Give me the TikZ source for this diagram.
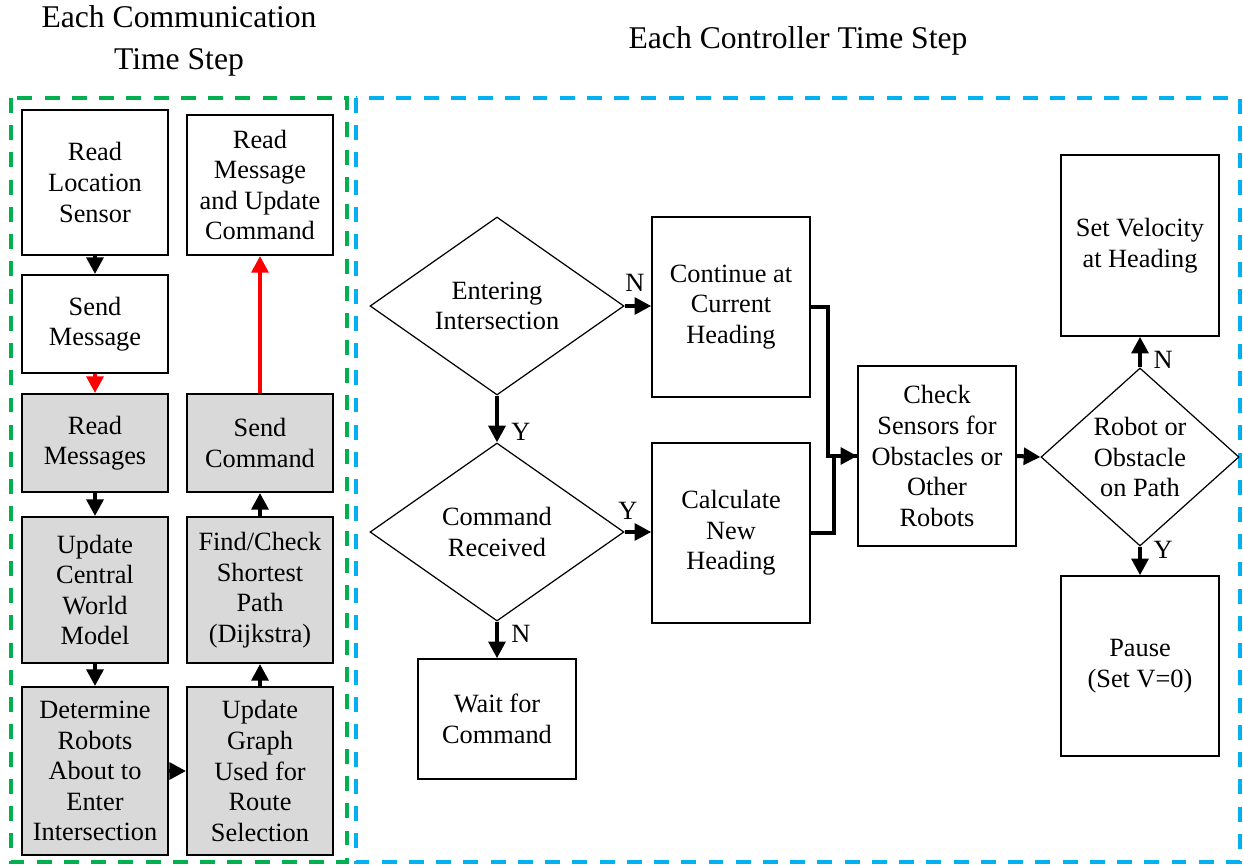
\documentclass[tikz,border=0pt]{standalone}
\usepackage{fontspec}
\setmainfont{Liberation Serif}
\usetikzlibrary{arrows.meta,shapes.geometric}
\newlength\pu
\setlength\pu{0.02cm}
\definecolor{framegreen}{HTML}{00B050}
\definecolor{frameblue}{HTML}{00B0F0}
\definecolor{shade}{HTML}{D9D9D9}

\begin{document}
\begin{tikzpicture}[x=0.02cm,y=-0.02cm,
  txt/.style={font=\fontsize{15}{17.4}\selectfont, align=center},
  lbox/.style={txt, draw, line width=1.1pt, inner sep=0pt,
    minimum width={146*\pu}},
  gbox/.style={lbox, fill=shade},
  rbox/.style={txt, draw, line width=0.85pt, inner sep=0pt,
    minimum width={158*\pu}, minimum height={180*\pu}},
  decision/.style={txt, draw, diamond, line width=0.7pt, inner sep=0pt,
    minimum width={254*\pu}, minimum height={178*\pu}},
  arr/.style={line width=2.3pt, -{Triangle[length=9.5pt,width=9.5pt]}},
  redarr/.style={arr, red},
  link/.style={line width=2.3pt},
  yn/.style={font=\fontsize{15}{17.4}\selectfont, inner sep=0pt},
  heading/.style={font=\fontsize{18}{24}\selectfont, align=center},
  frame/.style={dash pattern=on 8.5pt off 7pt}]

\useasboundingbox (0,0) rectangle (1243,865);

% phase frames and headings
\draw[frame, framegreen, line width=2.2pt] (11,98) rectangle (347,862);
\draw[frame, frameblue, line width=1.8pt] (356,98) rectangle (1240,862);
\node[heading] (hcomm) at (179,41) {Each Communication\\Time Step};
\node[heading] (hctrl) at (798,41) {Each Controller Time Step};

% communication time step
\node[lbox, minimum height={145*\pu}] (rls) at (95,182.5) {Read\\Location\\Sensor};
\node[lbox, minimum height={98*\pu}]  (sm)  at (95,324)   {Send\\Message};
\node[lbox, minimum height={140*\pu}] (rmu) at (260,185)  {Read\\Message\\and Update\\Command};
\node[gbox, minimum height={98*\pu}]  (rms) at (95,443)   {Read\\Messages};
\node[gbox, minimum height={98*\pu}]  (sc)  at (260,443)  {Send\\Command};
\node[gbox, minimum height={146*\pu}] (ucw) at (95,590)   {Update\\Central\\World\\Model};
\node[gbox, minimum height={146*\pu}] (fcs) at (260,590)  {Find/Check\\Shortest\\Path\\(Dijkstra)};
\node[gbox, minimum height={168*\pu}] (drb) at (95,771)   {Determine\\Robots\\About to\\Enter\\Intersection};
\node[gbox, minimum height={168*\pu}] (ugr) at (260,771)  {Update\\Graph\\Used for\\Route\\Selection};

\draw[arr] (rls) -- (sm);
\draw[redarr] (sm) -- (rms);
\draw[arr] (rms) -- (ucw);
\draw[arr] (ucw) -- (drb);
\draw[arr] (drb) -- (ugr);
\draw[arr] (ugr) -- (fcs);
\draw[arr] (fcs) -- (sc);
\draw[redarr] (sc) -- (rmu);

% controller time step
\node[decision] (ent)  at (497,306) {Entering\\Intersection};
\node[decision] (cmd)  at (497,532) {Command\\Received};
\node[rbox] (cont)  at (731,307) {Continue at\\Current\\Heading};
\node[rbox] (calc)  at (731,533) {Calculate\\New\\Heading};
\node[rbox, minimum height={120*\pu}] (wait) at (497,719) {Wait for\\Command};
\node[rbox] (chk)   at (937,456) {Check\\Sensors for\\Obstacles or\\Other\\Robots};
\node[decision, minimum width={198*\pu}, minimum height={178*\pu}] (rob) at (1140,457) {Robot or\\Obstacle\\on Path};
\node[rbox, minimum height={181*\pu}] (setv)  at (1140,245.5) {Set Velocity\\at Heading};
\node[rbox] (pause) at (1140,666) {Pause\\(Set V=0)};

\draw[arr] (ent.east) -- (cont.west |- ent.east);
\node[yn] (ln1) at (635,283) {N};
\draw[arr] (ent.south) -- (cmd.north);
\node[yn] (ly1) at (521,432) {Y};
\draw[arr] (cmd.east) -- (calc.west |- cmd.east);
\node[yn] (ly2) at (628,511) {Y};
\draw[arr] (cmd.south) -- (wait.north);
\node[yn] (ln2) at (521,634) {N};

\draw[link] (calc.east) -- ++(23,0) |- (chk.west);
\draw[arr] (cont.east) -- ++(17,0) |- (chk.west);
\draw[arr] (chk.east) -- (rob.west);
\draw[arr] (rob.north) -- (setv.south);
\node[yn] (ln3) at (1163,360) {N};
\draw[arr] (rob.south) -- (pause.north);
\node[yn] (ly3) at (1163,550) {Y};

\end{tikzpicture}
\end{document}
